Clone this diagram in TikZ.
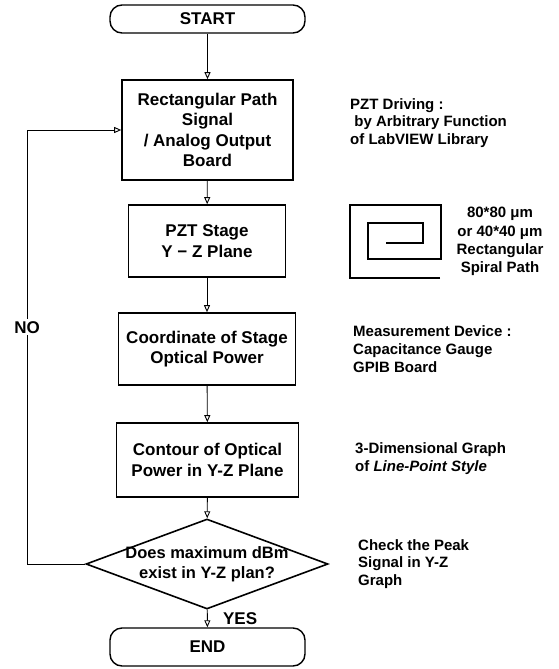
\documentclass[tikz,border=0pt]{standalone}
\usepackage{fontspec}
\setmainfont{Liberation Sans}
\usetikzlibrary{shapes.geometric,arrows.meta}

\begin{document}
\begin{tikzpicture}[x=1pt,y=-1pt,
		stepbox/.style={rectangle, draw, line width=1.6pt, inner sep=2pt, align=center, font=\fontsize{17}{20.5}\selectfont\bfseries},
		termbox/.style={rectangle, draw, line width=1.4pt, rounded corners=12pt, minimum width=195pt, font=\fontsize{17}{20.5}\selectfont\bfseries},
		note/.style={anchor=west, align=left, inner sep=0pt, font=\fontsize{15}{17.8}\selectfont\bfseries},
		flow/.style={line width=0.9pt, -{Triangle[open,length=7pt,width=6pt]}}]
		\useasboundingbox (0,0) rectangle (558,669);
		
		\node[termbox, minimum height=28pt] (start) at (207.5,19) {START};
		\node[stepbox, minimum width=171pt, minimum height=100pt] (signal) at (207.5,130) {Rectangular Path\\Signal\\/ Analog Output\\Board};
		\node[stepbox, minimum width=157pt, minimum height=72pt] (stage) at (207,241) {PZT Stage\\Y − Z Plane};
		\node[stepbox, minimum width=177pt, minimum height=72pt] (coord) at (207,349) {Coordinate of Stage\\Optical Power};
		\node[stepbox, minimum width=182pt, minimum height=74pt] (contour) at (207.5,460) {Contour of Optical\\Power in Y-Z Plane};
		\node[diamond, draw, line width=1.6pt, inner sep=0pt, minimum width=242pt, minimum height=90pt] (check) at (207,564) {};
		\node[align=center, font=\fontsize{16.5}{20}\selectfont\bfseries] (checktext) at (207,564) {Does maximum dBm\\exist in Y-Z plan?};
		\node[termbox, minimum height=38pt] (end) at (207.5,647) {END};
		
		\coordinate (loopbot) at (27,564);
		\coordinate (looptop) at (27,130);
		
		\draw[flow] (start) -- (signal);
		\draw[flow] (signal) -- (stage);
		\draw[flow] (stage) -- (coord);
		\draw[flow] (coord) -- (contour);
		\draw[flow] (contour) -- (check);
		\draw[flow] (check) -- node[right, xshift=12pt, font=\fontsize{17}{20}\selectfont\bfseries] (yes) {YES} (end);
		\draw[flow] (check.west) -- (loopbot) -- node[fill=white, inner sep=2pt, pos=0.545, font=\fontsize{17}{20}\selectfont\bfseries] (no) {NO} (looptop) -- (signal.west);
		
		\node[note] (drive) at (350,123) {PZT Driving :\\\ by Arbitrary Function\\of LabVIEW Library};
		\draw[line width=1.3pt] (440,278) -- (350,278) -- (350,205) -- (441,205) -- (441,259) -- (368,259) -- (368,223) -- (423,223) -- (423,243) -- (386,243);
		\node[note, anchor=center, align=center, font=\fontsize{15}{18.3}\selectfont\bfseries] (spiral) at (500,241.5) {80*80 μm\\or 40*40 μm\\Rectangular\\Spiral Path};
		\node[note] (device) at (353,349) {Measurement Device :\\Capacitance Gauge\\GPIB Board};
		\node[note] (graph) at (355,459) {3-Dimensional Graph\\of \textit{Line-Point Style}};
		\node[note] (peak) at (358,564) {Check the Peak\\Signal in Y-Z\\Graph};
	\end{tikzpicture}
\end{document}
